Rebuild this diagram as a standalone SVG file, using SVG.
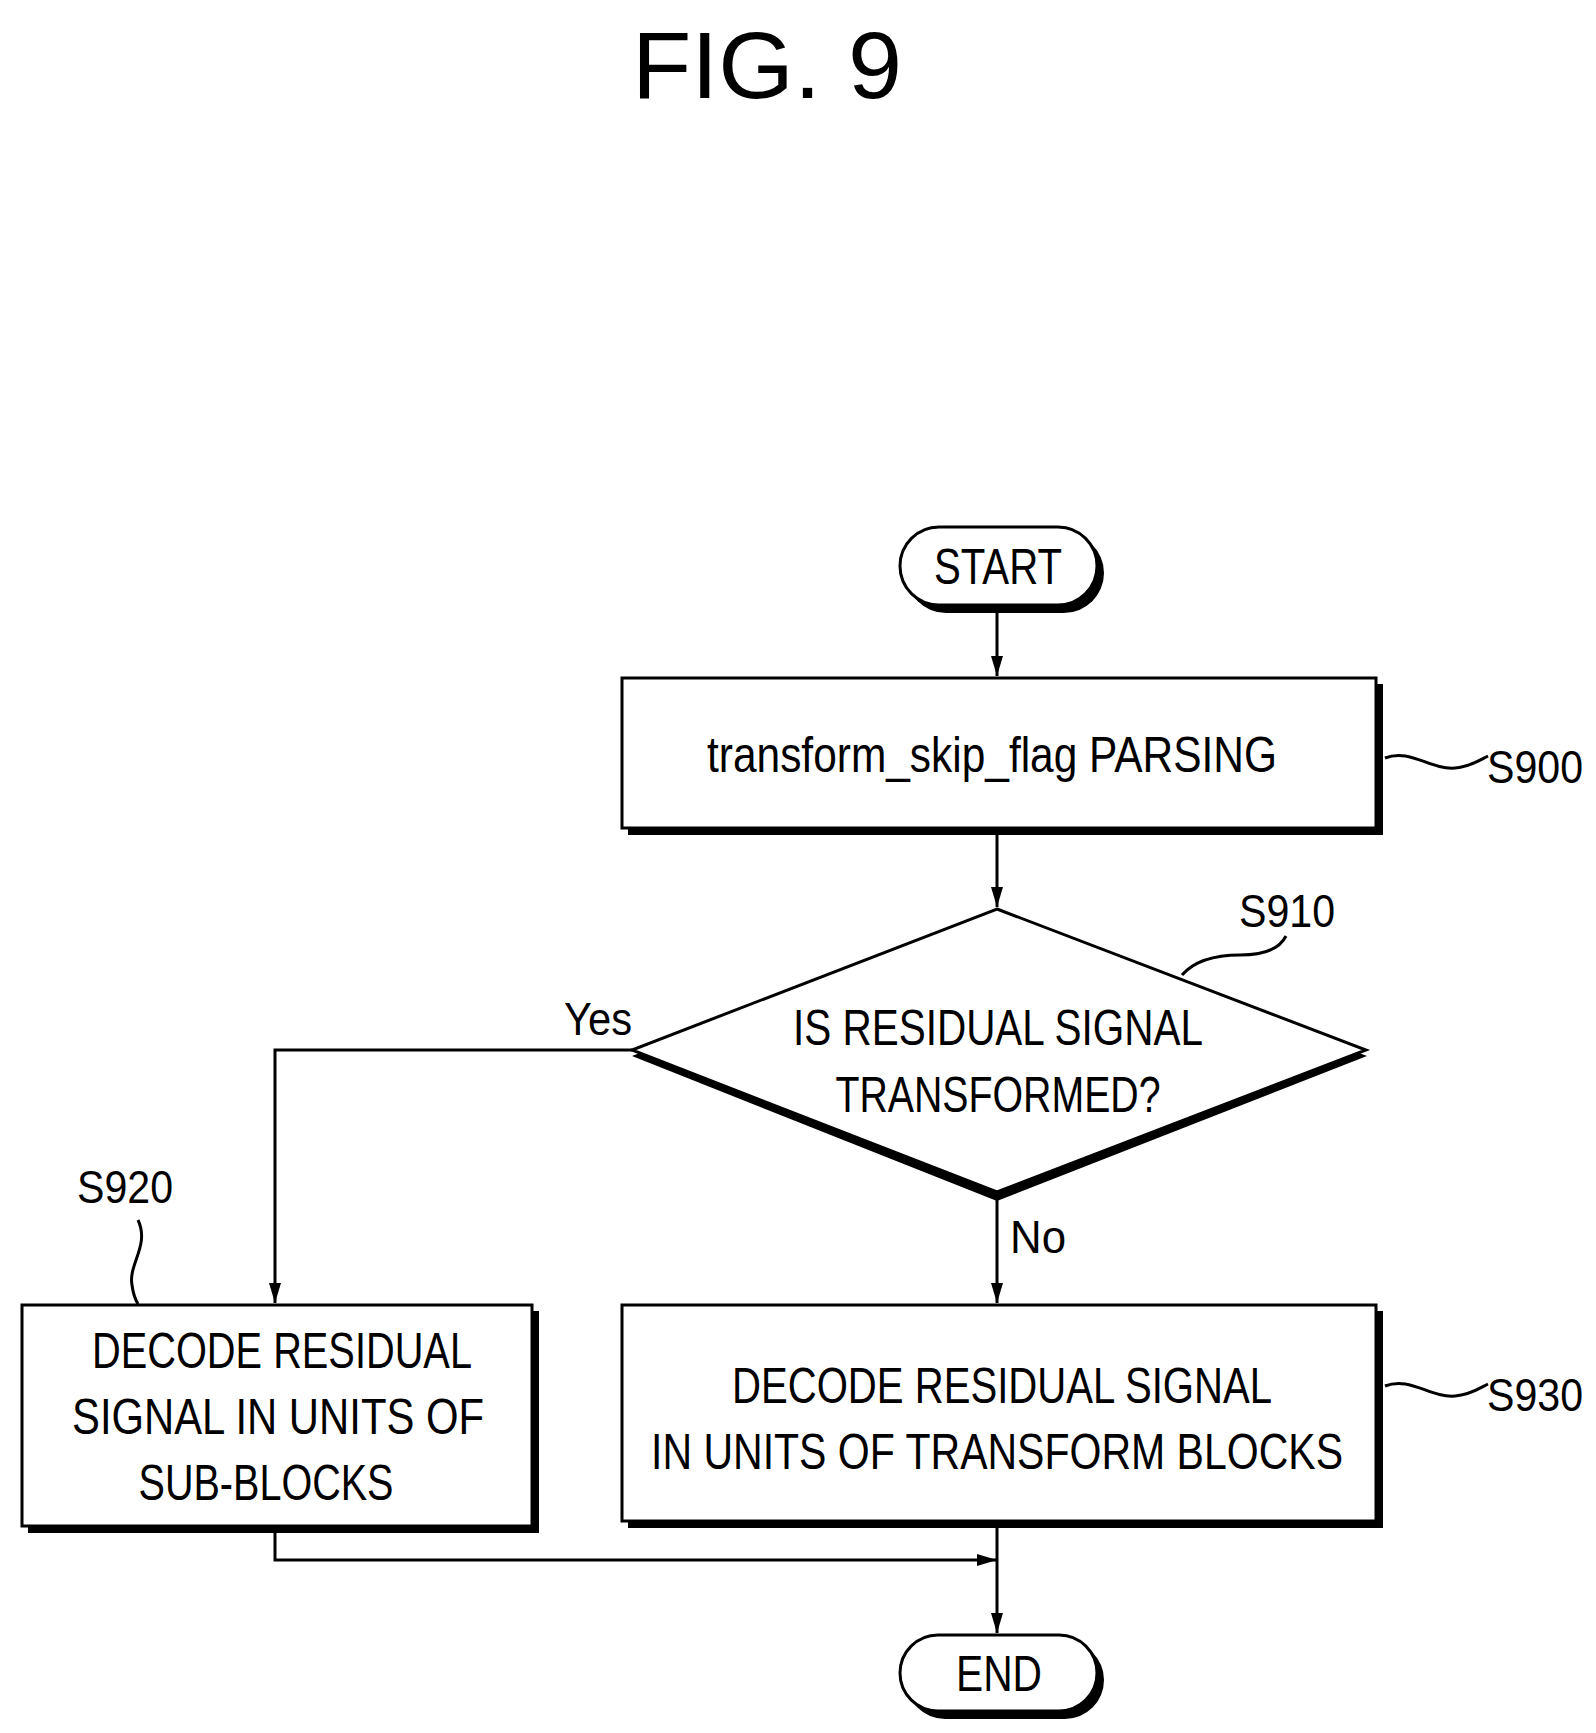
<svg xmlns="http://www.w3.org/2000/svg" width="1596" height="1733" viewBox="0 0 1596 1733">
<style>
.s{fill:#fff;stroke:#000;stroke-width:3}
.sh{fill:#000}
text{font-family:"Liberation Sans",Arial,sans-serif;fill:#000;text-anchor:middle}
.t{font-size:50px}
.l{font-size:46px}
.c{fill:none;stroke:#000;stroke-width:3}
</style>
<defs><marker id="a" viewBox="0 0 20 12" refX="20" refY="6" markerWidth="20" markerHeight="12" markerUnits="userSpaceOnUse" orient="auto"><path d="M0,0L20,6L0,12z"/></marker></defs>
<text x="767" y="98" style="font-size:94px" textLength="270" lengthAdjust="spacingAndGlyphs">FIG. 9</text>
<g id="start"><rect x="906" y="533" width="198" height="80" rx="40" class="sh"/><rect x="900" y="527" width="197" height="78" rx="39" class="s"/><text x="998" y="584" class="t" textLength="128" lengthAdjust="spacingAndGlyphs">START</text></g>
<g id="s900"><rect x="628" y="684" width="755" height="151" class="sh"/><rect x="622" y="678" width="754" height="150" class="s"/><text x="992" y="772" class="t" textLength="570" lengthAdjust="spacingAndGlyphs">transform_skip_flag PARSING</text>
<path d="M1385,758 C1410,748 1430,770 1455,768 C1470,767 1480,760 1488,756" class="c" stroke-width="2"/><text x="1535" y="783" class="l" textLength="96" lengthAdjust="spacingAndGlyphs">S900</text></g>
<g id="s910"><polygon points="997,915 1367,1056 997,1201 632,1056" class="sh"/><polygon points="997,909 1366,1050 997,1192 632,1050" class="s"/>
<text x="998" y="1045" class="t" textLength="410" lengthAdjust="spacingAndGlyphs">IS RESIDUAL SIGNAL</text><text x="998" y="1112" class="t" textLength="325" lengthAdjust="spacingAndGlyphs">TRANSFORMED?</text>
<path d="M1182,975 C1195,960 1215,955 1240,955 C1265,955 1280,948 1286,936" class="c" stroke-width="2"/><text x="1287" y="927" class="l" textLength="96" lengthAdjust="spacingAndGlyphs">S910</text></g>
<g id="s920"><rect x="28" y="1311" width="511" height="222" class="sh"/><rect x="22" y="1305" width="510" height="221" class="s"/>
<text x="282" y="1368" class="t" textLength="380" lengthAdjust="spacingAndGlyphs">DECODE RESIDUAL</text><text x="278" y="1434" class="t" textLength="412" lengthAdjust="spacingAndGlyphs">SIGNAL IN UNITS OF</text><text x="266" y="1500" class="t" textLength="255" lengthAdjust="spacingAndGlyphs">SUB-BLOCKS</text>
<path d="M138,1220 C150,1245 128,1265 132,1285 C133,1293 135,1299 138,1304" class="c" stroke-width="2"/><text x="125" y="1203" class="l" textLength="96" lengthAdjust="spacingAndGlyphs">S920</text></g>
<g id="s930"><rect x="628" y="1311" width="755" height="217" class="sh"/><rect x="622" y="1305" width="754" height="216" class="s"/>
<text x="1002" y="1403" class="t" textLength="540" lengthAdjust="spacingAndGlyphs">DECODE RESIDUAL SIGNAL</text><text x="997" y="1469" class="t" textLength="692" lengthAdjust="spacingAndGlyphs">IN UNITS OF TRANSFORM BLOCKS</text>
<path d="M1385,1386 C1410,1376 1430,1398 1455,1396 C1470,1395 1480,1388 1488,1384" class="c" stroke-width="2"/><text x="1535" y="1411" class="l" textLength="96" lengthAdjust="spacingAndGlyphs">S930</text></g>
<g id="end"><rect x="906" y="1641" width="198" height="78" rx="39" class="sh"/><rect x="900" y="1635" width="197" height="76" rx="38" class="s"/><text x="999" y="1691" class="t" textLength="86" lengthAdjust="spacingAndGlyphs">END</text></g>
<g id="connectors">
<path d="M997,607V676" class="c" marker-end="url(#a)"/>
<path d="M997,829V907" class="c" marker-end="url(#a)"/>
<path d="M632,1050H275V1303" class="c" marker-end="url(#a)"/>
<path d="M997,1194V1303" class="c" marker-end="url(#a)"/>
<path d="M275,1527V1560H997" class="c" marker-end="url(#a)"/>
<path d="M997,1521V1633" class="c" marker-end="url(#a)"/>
<text x="598" y="1035" class="l" textLength="68" lengthAdjust="spacingAndGlyphs">Yes</text>
<text x="1038" y="1253" class="l" textLength="56" lengthAdjust="spacingAndGlyphs">No</text>
</g>
</svg>
